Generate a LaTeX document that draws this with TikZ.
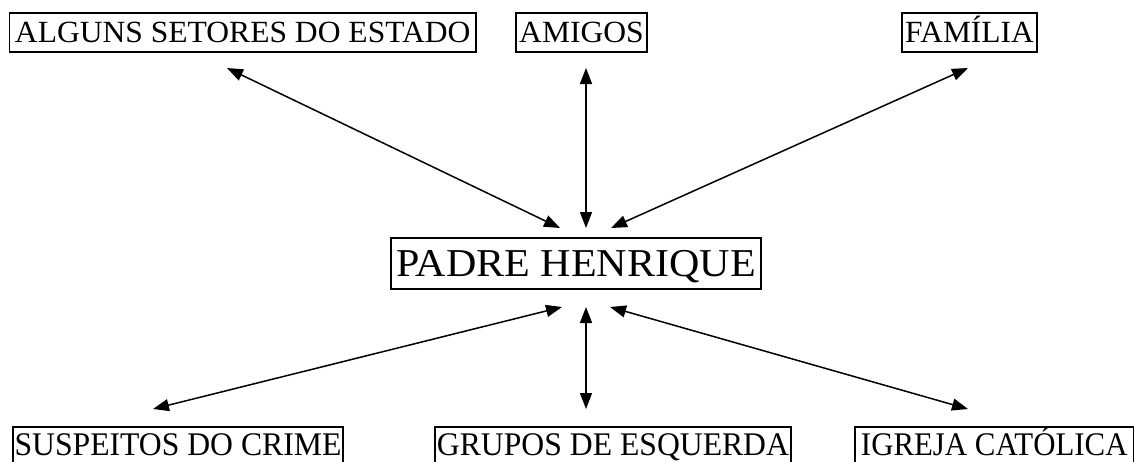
\documentclass[tikz,border=0pt]{standalone}
\usepackage{fontspec}
\usepackage{graphicx}
\setmainfont{Liberation Serif}
\usetikzlibrary{arrows.meta}
\newcommand{\boxtxt}[3]{{\fontsize{#1}{#1}\selectfont\scalebox{#2}[1]{#3}}}
\tikzset{
  lbl/.style={draw, line width=1.9pt, inner sep=0pt, align=center},
  toprow/.style={lbl, text height=20pt, text depth=0pt, minimum height=39pt},
  midrow/.style={lbl, text height=26pt, text depth=0pt, minimum height=51pt},
  botrow/.style={lbl, text height=22pt, text depth=6pt, minimum height=40pt},
  link/.style={line width=1.5pt, {Triangle[length=16pt,width=12pt]}-{Triangle[length=16pt,width=12pt]}}
}
\begin{document}
\begin{tikzpicture}[x=1pt,y=-1pt]
\useasboundingbox[fill=white] (0,0) rectangle (1134,461);
\node[toprow, minimum width=466.5pt] (alg) at (242.75,32.5) {\boxtxt{30.8pt}{1.025}{ALGUNS SETORES DO ESTADO}};
\node[toprow, minimum width=131pt] (ami) at (581.5,32.5) {\boxtxt{30.8pt}{1.025}{AMIGOS}};
\node[toprow, minimum width=135pt] (fam) at (969.5,32.5) {\boxtxt{30.8pt}{1.02}{FAMÍLIA}};
\node[midrow, minimum width=370pt] (pad) at (576,263.5) {\boxtxt{39.5pt}{1.065}{PADRE HENRIQUE}};
\node[botrow, minimum width=330pt] (sus) at (178,447) {\boxtxt{33pt}{0.96}{SUSPEITOS DO CRIME}};
\node[botrow, minimum width=356pt] (gru) at (613,447) {\boxtxt{33pt}{0.96}{GRUPOS DE ESQUERDA}};
\node[botrow, minimum width=278.5pt] (igr) at (994.25,447) {\boxtxt{33pt}{0.935}{IGREJA CATÓLICA}};
% arrow end points
\coordinate (alg-e) at (227,68);
\coordinate (ami-e) at (586,68);
\coordinate (fam-e) at (968,68);
\coordinate (pad-nw) at (560,228);
\coordinate (pad-n) at (586,228);
\coordinate (pad-ne) at (611,228);
\coordinate (pad-sw) at (562,307);
\coordinate (pad-s) at (586,307);
\coordinate (pad-se) at (610,307);
\coordinate (sus-e) at (153,409);
\coordinate (gru-e) at (586,409);
\coordinate (igr-e) at (968,409);
\draw[link] (alg-e) -- (pad-nw);
\draw[link] (ami-e) -- (pad-n);
\draw[link] (fam-e) -- (pad-ne);
\draw[link] (pad-sw) -- (sus-e);
\draw[link] (pad-s) -- (gru-e);
\draw[link] (pad-se) -- (igr-e);
\end{tikzpicture}
\end{document}
